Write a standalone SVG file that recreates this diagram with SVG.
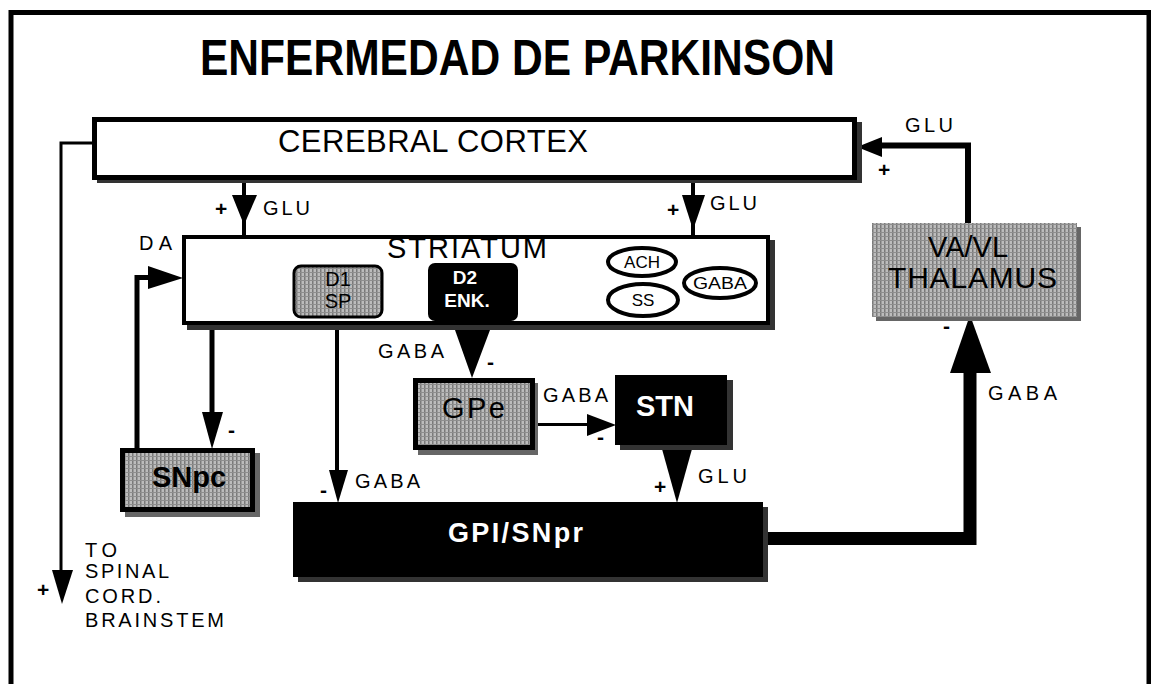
<svg xmlns="http://www.w3.org/2000/svg" width="1151" height="684" viewBox="0 0 1151 684">
<defs>
<pattern id="hatch" width="4" height="4" patternUnits="userSpaceOnUse">
<rect width="4" height="4" fill="#bcbcbc"/>
<rect width="1.5" height="4" fill="#7a7a7a"/>
<rect width="4" height="1" fill="#8e8e8e"/>
</pattern>
</defs>
<style>
text{font-family:"Liberation Sans",Arial,sans-serif;fill:#000}
.lbl{font-size:20px}
.sgn{font-size:21px;font-weight:bold}
.big{font-size:29px}
.b{font-weight:bold}
.w{fill:#fff}
.mid{text-anchor:middle}
.sh{fill:#333}
.sh2{fill:#666}
.box{fill:#fff;stroke:#000}
.hbox{fill:url(#hatch);stroke:#000}
.ln{stroke:#000;fill:none}
.ah{fill:#000}
.ov{fill:#fff;stroke:#000;stroke-width:4}
.ovt{font-size:17px}
</style>
<rect width="1151" height="684" fill="#fff"/>
<path d="M11 684 V12.5 H1149 V684" fill="none" stroke="#000" stroke-width="5"/>
<text id="title" x="200" y="75" font-size="50" font-weight="bold" textLength="635" lengthAdjust="spacingAndGlyphs">ENFERMEDAD DE PARKINSON</text>

<g id="connectors">
<polyline class="ln" stroke-width="3" points="92,143 61,143 61,575"/>
<polygon class="ah" points="52,570 73,570 62,604"/>
<line class="ln" stroke-width="4" x1="244" y1="180" x2="244" y2="236"/>
<polygon class="ah" points="232,195 257,195 244,225"/>
<line class="ln" stroke-width="4" x1="693" y1="180" x2="693" y2="236"/>
<polygon class="ah" points="682,195 705,195 693,230"/>
<polyline class="ln" stroke-width="6" points="968,224 968,145.5 878,145.5"/>
<polygon class="ah" points="857,147 882,137 882,157"/>
<polyline class="ln" stroke-width="13" points="763,538.5 970,538.5 970,370"/>
<polygon class="ah" points="950,373 991,373 970,315"/>
<polyline class="ln" stroke-width="5" points="137,449 137,277.5 160,277.5"/>
<polygon class="ah" points="148,266 148,289 183,278"/>
<line class="ln" stroke-width="5" x1="212" y1="325" x2="212" y2="420"/>
<polygon class="ah" points="202,412 223,412 212,449"/>
<line class="ln" stroke-width="4" x1="337" y1="325" x2="337" y2="475"/>
<polygon class="ah" points="329,470 348,470 338,503"/>
<rect x="462" y="318" width="20" height="14" fill="#000"/>
<polygon class="ah" points="455,330 490,330 472,378"/>
<line class="ln" stroke-width="3" x1="535" y1="424.5" x2="595" y2="424.5"/>
<polygon class="ah" points="587,414 587,436 616,425"/>
<polygon class="ah" points="662,449 692,449 677,503"/>
<text class="sgn" x="37" y="597">+</text>
<text class="sgn" x="215" y="216">+</text>
<text class="lbl" x="263" y="215" textLength="47">GLU</text>
<text class="sgn" x="667" y="217">+</text>
<text class="lbl" x="710" y="210" textLength="47">GLU</text>
<text class="lbl" x="905" y="132" textLength="48">GLU</text>
<text class="sgn" x="878" y="177">+</text>
<text class="sgn" x="943" y="333">-</text>
<text class="lbl" x="988" y="400" textLength="69">GABA</text>
<text class="lbl" x="139" y="250" textLength="33">DA</text>
<text class="sgn" x="228" y="437">-</text>
<text class="sgn" x="320" y="497">-</text>
<text class="lbl" x="355" y="488" textLength="65">GABA</text>
<text class="lbl" x="378" y="358" textLength="66">GABA</text>
<text class="sgn" x="487" y="369">-</text>
<text class="lbl" x="543" y="402" textLength="65">GABA</text>
<text class="sgn" x="597" y="444">-</text>
<text class="sgn" x="654" y="494">+</text>
<text class="lbl" x="698" y="483" textLength="49">GLU</text>
<text class="lbl" x="85" y="557" textLength="32">TO</text>
<text class="lbl" x="85" y="578" textLength="84">SPINAL</text>
<text class="lbl" x="85" y="603" textLength="76">CORD.</text>
<text class="lbl" x="85" y="627" textLength="139">BRAINSTEM</text>
</g>

<g id="cortex">
<rect class="sh" x="97" y="122" width="765" height="61"/>
<rect class="box" stroke-width="5" x="94.5" y="119.5" width="760" height="58"/>
<text x="278" y="152" font-size="31" textLength="310">CEREBRAL CORTEX</text>
</g>

<g id="striatum">
<rect class="sh" x="187" y="240" width="588" height="90"/>
<rect class="box" stroke-width="4" x="184" y="237" width="584" height="86"/>
<text x="387" y="258" font-size="29" textLength="160">STRIATUM</text>
</g>

<g id="d1">
<rect class="hbox" stroke-width="3" x="294" y="266" width="88" height="51" rx="7"/>
<text class="mid" x="338" y="286" font-size="20">D1</text>
<text class="mid" x="338" y="308" font-size="20">SP</text>
</g>

<g id="d2">
<rect x="428" y="263" width="90" height="58" rx="7" fill="#000"/>
<text class="mid w b" x="465" y="284" font-size="19">D2</text>
<text class="mid w b" x="467" y="307" font-size="19">ENK.</text>
</g>

<g id="ach">
<ellipse class="ov" cx="642" cy="262" rx="34" ry="14"/>
<text class="mid ovt" x="642" y="268">ACH</text>
</g>
<g id="ss">
<ellipse class="ov" cx="643" cy="300" rx="35" ry="16"/>
<text class="mid ovt" x="643" y="306">SS</text>
</g>
<g id="gaba">
<ellipse class="ov" cx="720" cy="283" rx="36" ry="15"/>
<text class="mid" x="720" y="289" font-size="16" textLength="54" lengthAdjust="spacingAndGlyphs">GABA</text>
</g>

<g id="thalamus">
<rect class="sh2" x="876" y="227" width="205" height="94"/>
<rect x="872" y="223" width="205" height="94" fill="url(#hatch)"/>
<text class="mid big" x="968" y="257" font-size="30">VA/VL</text>
<text x="888" y="288" font-size="30" textLength="169">THALAMUS</text>
</g>

<g id="snpc">
<rect class="sh2" x="125" y="453" width="135" height="64"/>
<rect class="hbox" stroke-width="5" x="122.5" y="450.5" width="130" height="59"/>
<text class="mid big b" x="189" y="487">SNpc</text>
</g>

<g id="gpe">
<rect class="sh2" x="418" y="383" width="120" height="72"/>
<rect class="hbox" stroke-width="5" x="415.5" y="380.5" width="117" height="67"/>
<text x="442" y="418" font-size="29" textLength="63">GPe</text>
</g>

<g id="stn">
<rect class="sh" x="620" y="380" width="113" height="70"/>
<rect x="615" y="375" width="112" height="70" fill="#000"/>
<text class="mid big b w" x="665" y="416">STN</text>
</g>

<g id="gpi">
<rect class="sh" x="298" y="507" width="470" height="75"/>
<rect x="293" y="502" width="470" height="75" fill="#000"/>
<text class="b w" x="448" y="542" font-size="27" textLength="135">GPI/SNpr</text>
</g>
</svg>
